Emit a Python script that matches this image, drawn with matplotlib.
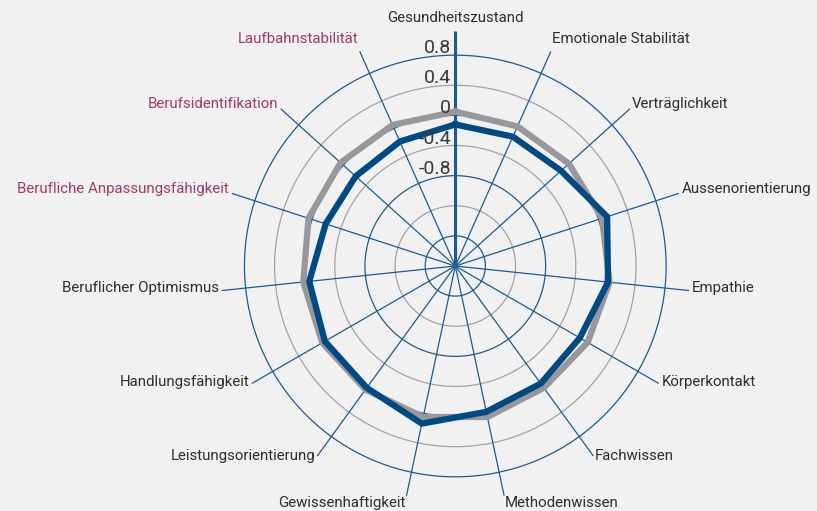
import numpy as np
import matplotlib
matplotlib.use("Agg")
import matplotlib.pyplot as plt
from matplotlib import transforms

categories = ["Gesundheitszustand", "Emotionale Stabilität", "Verträglichkeit",
              "Aussenorientierung", "Empathie", "Körperkontakt", "Fachwissen",
              "Methodenwissen", "Gewissenhaftigkeit", "Leistungsorientierung",
              "Handlungsfähigkeit", "Beruflicher Optimismus",
              "Berufliche Anpassungsfähigkeit", "Berufsidentifikation",
              "Laufbahnstabilität"]
highlighted = ["Berufliche Anpassungsfähigkeit", "Berufsidentifikation", "Laufbahnstabilität"]

series_grey = [0.05, 0.03, 0.03, 0.05, 0.06, 0.03, 0.00, 0.05, 0.05, 0.03,
               0.04, 0.03, 0.05, 0.05, 0.05]
series_blue = [-0.12, -0.12, -0.11, 0.12, 0.04, -0.09, -0.07, -0.02, 0.14, 0.00,
               0.00, -0.05, -0.19, -0.22, -0.19]

grid_levels = [-1.6, -1.2, -0.8, -0.4, 0.0, 0.4, 0.8]
tick_values = [-0.8, -0.4, 0.0, 0.4, 0.8]
tick_labels = ["-0.8", "-0.4", "0", "0.4", "0.8"]

BG = "#f1f1f1"
BLUE = "#004a84"
GRIDBLUE = "#1d5a94"
GRIDGREY = "#a3a3a3"
GREYSER = "#98989c"
TEXT = "#2e2e2e"
MAGENTA = "#a23a6b"

plt.rcParams["font.family"] = ["Roboto", "DejaVu Sans"]

W, H = 817, 511
fig = plt.figure(figsize=(W / 100, H / 100), dpi=100, facecolor=BG)

rmin, rmax = -2.0, 1.14
px_per_unit = 75.3
R = (rmax - rmin) * px_per_unit
cx, cy = 455.3, 266.0
ax = fig.add_axes([(cx - R) / W, (H - cy - R) / H, 2 * R / W, 2 * R / H],
                  projection="polar")
ax.set_facecolor("none")
ax.set_theta_zero_location("N")
ax.set_theta_direction(-1)
ax.set_ylim(rmin, rmax)
ax.set_xticks([])
ax.set_yticks([])
ax.grid(False)
ax.spines["polar"].set_visible(False)

n = len(categories)
angles = np.arange(n) * 2 * np.pi / n

# grid circles
th = np.linspace(0, 2 * np.pi, 721)
for i, lv in enumerate(grid_levels):
    col = GRIDBLUE if i % 2 == 0 else GRIDGREY
    ax.plot(th, np.full_like(th, lv), color=col, lw=0.9, zorder=1)

# spokes
spoke_end = 1.12
for i, a in enumerate(angles):
    lw = 2.2 if i == 0 else 0.9
    ax.plot([a, a], [rmin, spoke_end], color=GRIDBLUE, lw=lw, zorder=2,
            solid_capstyle="butt")

# series
a_closed = np.append(angles, angles[0])
ax.plot(a_closed, np.append(series_grey, series_grey[0]), color=GREYSER, lw=4.5,
        solid_joinstyle="miter", zorder=3)
ax.plot(a_closed, np.append(series_blue, series_blue[0]), color=BLUE, lw=4.5,
        solid_joinstyle="miter", zorder=4)

# tick labels on vertical axis
tick_tr = transforms.offset_copy(ax.transData, fig=fig, x=-4, y=2, units="dots")
for v, lab in zip(tick_values, tick_labels):
    ax.text(0, v, lab, transform=tick_tr, ha="right", va="baseline",
            fontsize=14, color="#3a3a3a", zorder=5)

# category labels
lab_tr = transforms.offset_copy(ax.transData, fig=fig, x=0, y=3, units="dots")
r_lab = 1.16
for a, cat in zip(angles, categories):
    s, c = np.sin(a), np.cos(a)
    if abs(s) < 0.05:
        ha = "center"
    elif s > 0:
        ha = "left"
    else:
        ha = "right"
    if c > 0.85:
        va = "bottom"
    elif c < -0.85:
        va = "top"
    else:
        va = "center"
    ax.text(a, r_lab, cat, transform=lab_tr, ha=ha, va=va, fontsize=10.8,
            color=MAGENTA if cat in highlighted else TEXT, zorder=5)

fig.savefig("out.png", dpi=100, facecolor=BG)
